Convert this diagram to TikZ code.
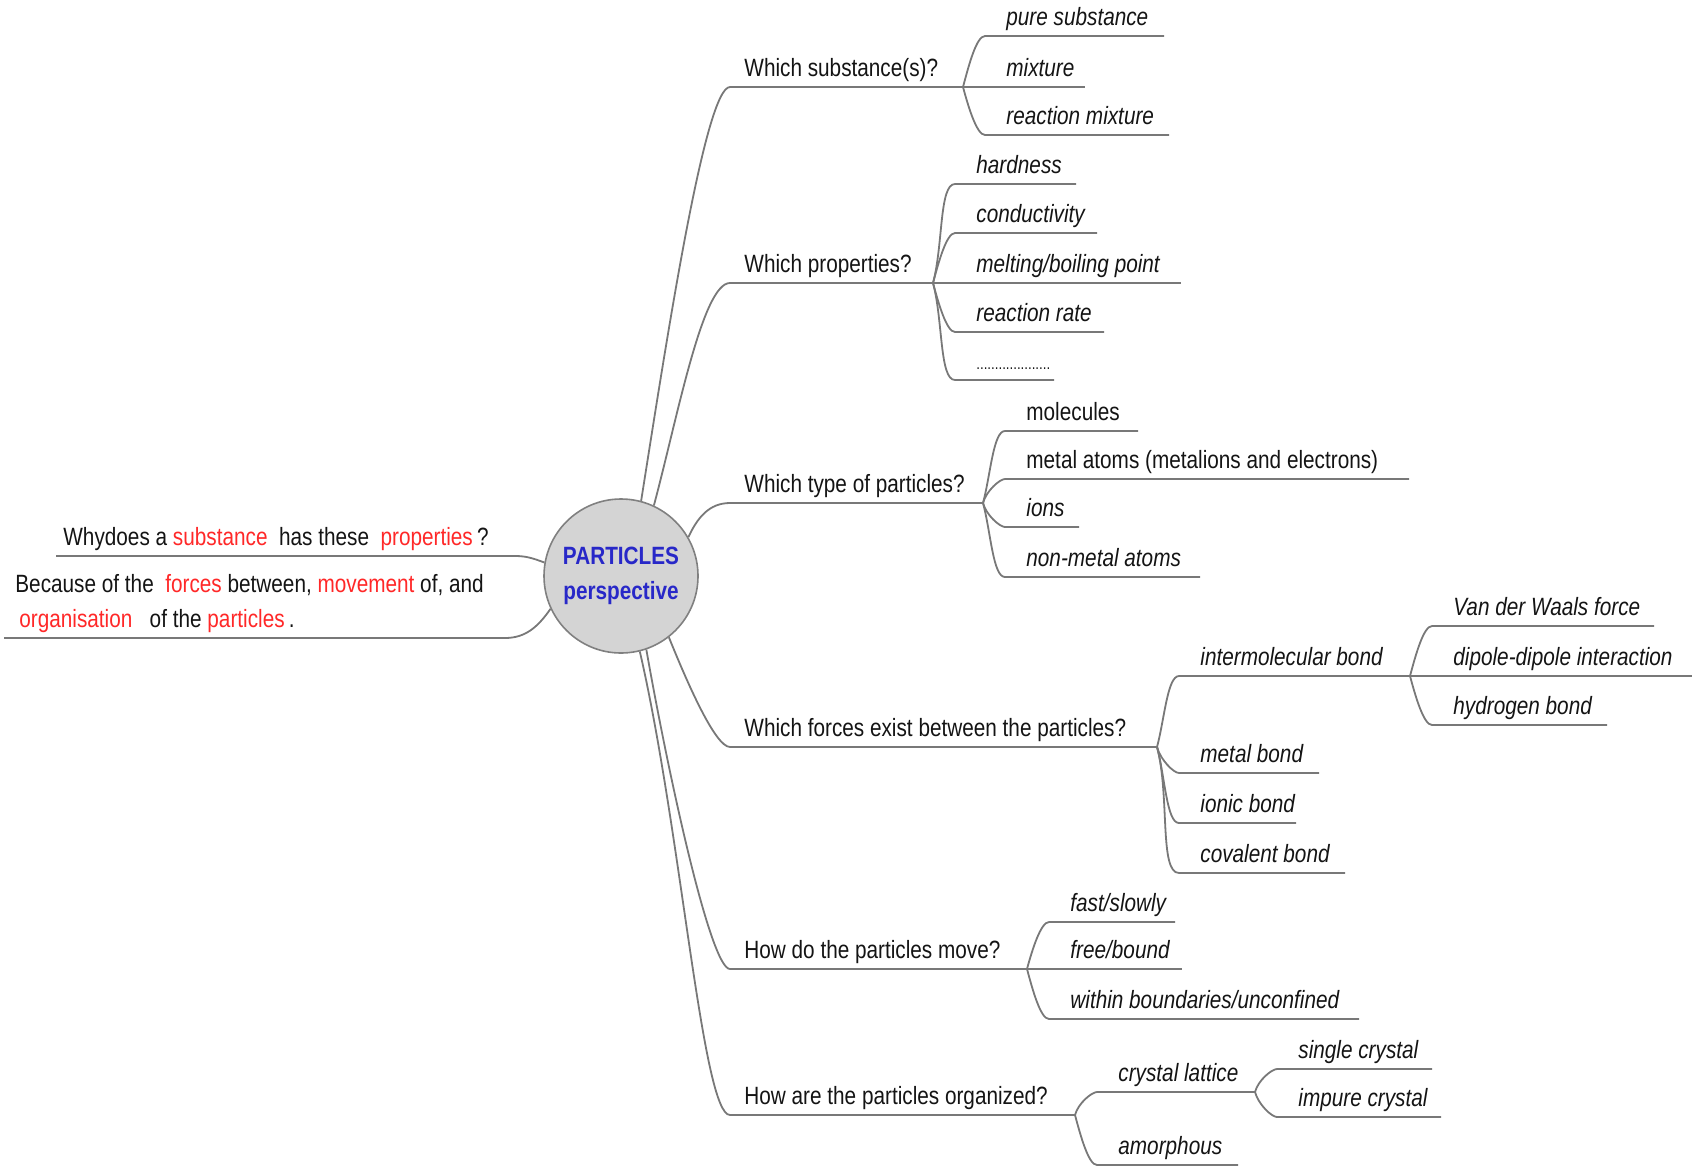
\documentclass[tikz,border=0pt]{standalone}
\usepackage{fontspec}
\setmainfont{Liberation Sans}[FakeStretch=0.83]
\usepackage{xcolor}
\usepackage{tikz}
\usetikzlibrary{positioning}

\definecolor{hubfill}{RGB}{212,212,212}
\definecolor{hubrim}{RGB}{128,128,128}
\definecolor{hubblue}{RGB}{40,40,200}
\definecolor{keyred}{RGB}{255,40,40}
\definecolor{twiggray}{RGB}{120,120,120}
\definecolor{inkgray}{RGB}{20,20,20}

\begin{document}
\fontsize{12.5}{17.5}\selectfont
\begin{tikzpicture}[x=0.5pt, y=-0.5pt,
  hub/.style={circle, draw=hubrim, line width=0.8pt, fill=hubfill, minimum size=77pt, inner sep=0pt, align=center, font=\bfseries, text=hubblue},
  question/.style={anchor=south west, inner xsep=7pt, inner ysep=2pt, text depth=3pt, text=inkgray},
  leaf/.style={anchor=south west, inner xsep=10.5pt, inner ysep=2pt, text depth=3pt, text=inkgray, font=\itshape},
  plainleaf/.style={leaf, font=\upshape},
  twig/.style={draw=twiggray, line width=0.9pt},
  forkup/.style={out=75, in=180, in looseness=0.4},
  forkdown/.style={out=-75, in=180, in looseness=0.4},
]
\useasboundingbox (0,0) rectangle (1695,1167);

% centre
\node[hub] (hub) at (621,576) {PARTICLES\\perspective};

% left side
\node[question, inner xsep=3.5pt] (why) at (56,556) {Whydoes a \textcolor{keyred}{substance}\ \ has these\ \ \textcolor{keyred}{properties}\,?};
\coordinate (why-e) at (515,556);
\draw[twig] (why.south west) -- (why-e) to[out=0, in=160] (hub.170);

\node[question, inner xsep=5.5pt, align=left] (cause) at (4,638) {Because of the\ \ \textcolor{keyred}{forces}\ between,\ \textcolor{keyred}{movement}\ of,\ and\\\hspace{2pt}\textcolor{keyred}{organisation}\ \ \ of the \textcolor{keyred}{particles}\,.};
\coordinate (cause-e) at (505,638);
\draw[twig] (cause.south west) -- (cause-e) to[out=0, in=235] (hub.205);

% which substance(s)
\node[question] (sub) at (730,87) {Which substance(s)?};
\coordinate (sub-f) at (963,87);
\draw[twig] (hub.75) to[out=81, in=180, in looseness=0.15] (sub.south west) -- (sub-f);
\node[leaf] (pure) at (985,36) {pure substance};
\node[leaf] (mix) at (985,87) {mixture};
\node[leaf] (rmix) at (985,135) {reaction mixture};
\coordinate (pure-e) at (1164,36);
\coordinate (mix-e) at (1085,87);
\coordinate (rmix-e) at (1169,135);
\draw[twig] (sub-f) to[forkup] (pure.south west) -- (pure-e);
\draw[twig] (sub-f) -- (mix.south west) -- (mix-e);
\draw[twig] (sub-f) to[forkdown] (rmix.south west) -- (rmix-e);

% which properties
\node[question] (prop) at (730,283) {Which properties?};
\coordinate (prop-f) at (933,283);
\draw[twig] (hub.65) to[out=75, in=180, in looseness=0.3] (prop.south west) -- (prop-f);
\node[leaf] (hard) at (955,184) {hardness};
\node[leaf] (cond) at (955,233) {conductivity};
\node[leaf] (melt) at (955,283) {melting/boiling point};
\node[leaf] (rate) at (955,332) {reaction rate};
\node[leaf, font=\footnotesize] (more) at (955,380) {....................};
\coordinate (hard-e) at (1076,184);
\coordinate (cond-e) at (1097,233);
\coordinate (melt-e) at (1181,283);
\coordinate (rate-e) at (1104,332);
\coordinate (more-e) at (1054,380);
\draw[twig] (prop-f) to[forkup] (hard.south west) -- (hard-e);
\draw[twig] (prop-f) to[forkup] (cond.south west) -- (cond-e);
\draw[twig] (prop-f) -- (melt.south west) -- (melt-e);
\draw[twig] (prop-f) to[forkdown] (rate.south west) -- (rate-e);
\draw[twig] (prop-f) to[forkdown] (more.south west) -- (more-e);

% which type of particles
\node[question] (kind) at (730,503) {Which type of particles?};
\coordinate (kind-f) at (983,503);
\draw[twig] (hub.30) to[out=65, in=180] (kind.south west) -- (kind-f);
\node[plainleaf] (mol) at (1005,431) {molecules};
\node[plainleaf] (metat) at (1005,479) {metal atoms (metalions and electrons)};
\node[leaf] (ion) at (1005,527) {ions};
\node[leaf] (nonmet) at (1005,577) {non-metal atoms};
\coordinate (mol-e) at (1138,431);
\coordinate (metat-e) at (1409,479);
\coordinate (ion-e) at (1079,527);
\coordinate (nonmet-e) at (1200,577);
\draw[twig] (kind-f) to[forkup] (mol.south west) -- (mol-e);
\draw[twig] (kind-f) to[forkup] (metat.south west) -- (metat-e);
\draw[twig] (kind-f) to[forkdown] (ion.south west) -- (ion-e);
\draw[twig] (kind-f) to[forkdown] (nonmet.south west) -- (nonmet-e);

% which forces
\node[question] (force) at (730,747) {Which forces exist between the particles?};
\coordinate (force-f) at (1157,747);
\draw[twig] (hub.-52) to[out=-68, in=180, in looseness=0.3] (force.south west) -- (force-f);
\node[leaf] (inter) at (1179,676) {intermolecular bond};
\node[leaf] (metb) at (1179,773) {metal bond};
\node[leaf] (ionb) at (1179,823) {ionic bond};
\node[leaf] (covb) at (1179,873) {covalent bond};
\coordinate (inter-f) at (1410,676);
\coordinate (metb-e) at (1319,773);
\coordinate (ionb-e) at (1296,823);
\coordinate (covb-e) at (1345,873);
\draw[twig] (force-f) to[forkup] (inter.south west) -- (inter-f);
\draw[twig] (force-f) to[forkdown] (metb.south west) -- (metb-e);
\draw[twig] (force-f) to[forkdown] (ionb.south west) -- (ionb-e);
\draw[twig] (force-f) to[forkdown] (covb.south west) -- (covb-e);
\node[leaf] (vdw) at (1432,626) {Van der Waals force};
\node[leaf] (dip) at (1432,676) {dipole-dipole interaction};
\node[leaf] (hyd) at (1432,725) {hydrogen bond};
\coordinate (vdw-e) at (1654,626);
\coordinate (dip-e) at (1692,676);
\coordinate (hyd-e) at (1607,725);
\draw[twig] (inter-f) to[forkup] (vdw.south west) -- (vdw-e);
\draw[twig] (inter-f) -- (dip.south west) -- (dip-e);
\draw[twig] (inter-f) to[forkdown] (hyd.south west) -- (hyd-e);

% how do they move
\node[question] (move) at (730,969) {How do the particles move?};
\coordinate (move-f) at (1027,969);
\draw[twig] (hub.-71) to[out=-80, in=180, in looseness=0.15] (move.south west) -- (move-f);
\node[leaf] (fast) at (1049,922) {fast/slowly};
\node[leaf] (free) at (1049,969) {free/bound};
\node[leaf] (within) at (1049,1019) {within boundaries/unconfined};
\coordinate (fast-e) at (1175,922);
\coordinate (free-e) at (1182,969);
\coordinate (within-e) at (1359,1019);
\draw[twig] (move-f) to[forkup] (fast.south west) -- (fast-e);
\draw[twig] (move-f) -- (free.south west) -- (free-e);
\draw[twig] (move-f) to[forkdown] (within.south west) -- (within-e);

% how are they organized
\node[question] (order) at (730,1115) {How are the particles organized?};
\coordinate (order-f) at (1075,1115);
\draw[twig] (hub.-76) to[out=-77, in=180, in looseness=0.15] (order.south west) -- (order-f);
\node[leaf] (lattice) at (1097,1092) {crystal lattice};
\node[leaf] (amor) at (1097,1165) {amorphous};
\coordinate (lattice-f) at (1255,1092);
\coordinate (amor-e) at (1238,1165);
\draw[twig] (order-f) to[forkup] (lattice.south west) -- (lattice-f);
\draw[twig] (order-f) to[forkdown] (amor.south west) -- (amor-e);
\node[leaf] (single) at (1277,1069) {single crystal};
\node[leaf] (impure) at (1277,1117) {impure crystal};
\coordinate (single-e) at (1432,1069);
\coordinate (impure-e) at (1441,1117);
\draw[twig] (lattice-f) to[forkup] (single.south west) -- (single-e);
\draw[twig] (lattice-f) to[forkdown] (impure.south west) -- (impure-e);
\end{tikzpicture}
\end{document}
